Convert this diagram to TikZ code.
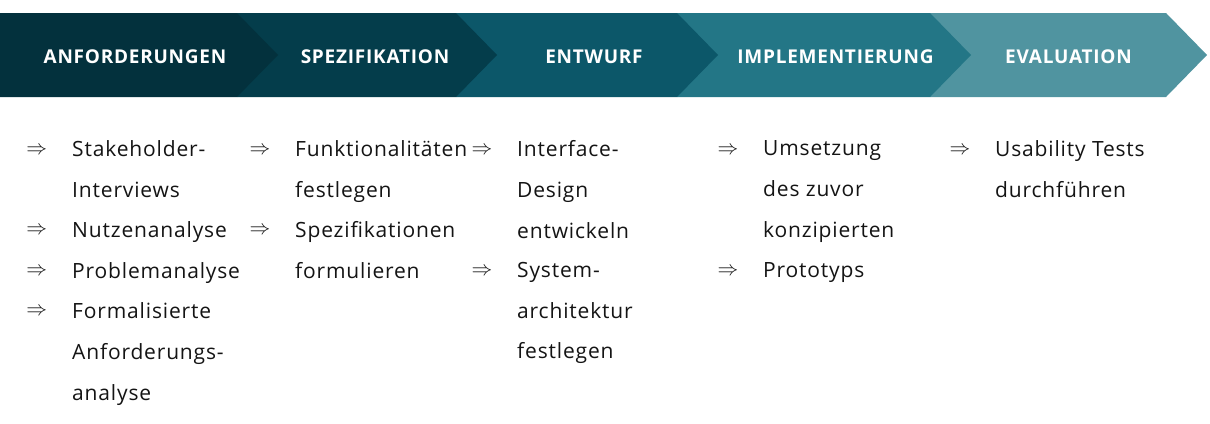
\documentclass[tikz,border=0pt]{standalone}
\usepackage{fontspec}
\setmainfont{Open Sans}[LetterSpace=4]
\begin{document}
\begin{tikzpicture}[x=1pt,y=-1pt,
  head/.style={text=white,font=\fontsize{19}{20}\selectfont\bfseries,inner sep=0pt,anchor=base},
  item/.style={text=black!92,font=\fontsize{21}{40.7}\selectfont,inner sep=0pt,anchor=north west,align=left},
  arr/.style={text=black!92,font=\fontsize{21}{21}\selectfont,inner sep=0pt,anchor=center}]
\useasboundingbox (0,0) rectangle (1210,423);
\definecolor{cA}{RGB}{3,49,61}
\definecolor{cB}{RGB}{4,61,75}
\definecolor{cC}{RGB}{12,87,105}
\definecolor{cD}{RGB}{35,118,134}
\definecolor{cE}{RGB}{80,148,160}
% chevrons, drawn back to front so each tip overlaps the next band
\fill[cE] (930,13) -- (1166,13) -- (1207,55) -- (1166,97) -- (930,97) -- cycle;
\fill[cD] (677,13) -- (930,13) -- (971,55) -- (930,97) -- (677,97) -- cycle;
\fill[cC] (456,13) -- (677,13) -- (718,55) -- (677,97) -- (456,97) -- cycle;
\fill[cB] (237,13) -- (456,13) -- (497,55) -- (456,97) -- (237,97) -- cycle;
\fill[cA] (0,13) -- (237,13) -- (278,55) -- (237,97) -- (0,97) -- cycle;
% phase titles
\node[head] (h1) at (135,63.3) {ANFORDERUNGEN};
\node[head] (h2) at (375,63.3) {SPEZIFIKATION};
\node[head] (h3) at (594,63.3) {ENTWURF};
\node[head] (h4) at (835.5,63.3) {IMPLEMENTIERUNG};
\node[head] (h5) at (1068.5,63.3) {EVALUATION};
% column 1 (item nodes: north west corner = top of first line box)
\node[arr] (a11) at (36.7,150.5) {$\Rightarrow$};
\node[item] (t11) at (72,140.5) {Stakeholder-\\Interviews};
\node[arr] (a12) at (36.7,231) {$\Rightarrow$};
\node[item] (t12) at (72,221.5) {Nutzenanalyse};
\node[arr] (a13) at (36.7,271.5) {$\Rightarrow$};
\node[item] (t13) at (72,262) {Problemanalyse};
\node[arr] (a14) at (36.7,312) {$\Rightarrow$};
\node[item] (t14) at (72,302.5) {Formalisierte\\Anforderungs-\\analyse};
% column 2
\node[arr] (a21) at (260,150.5) {$\Rightarrow$};
\node[item] (t21) at (295,140.5) {Funktionalitäten\\festlegen};
\node[arr] (a22) at (260,231) {$\Rightarrow$};
\node[item] (t22) at (295,221.5) {Spezifikationen\\formulieren};
% column 3
\node[arr] (a31) at (482,150.5) {$\Rightarrow$};
\node[item] (t31) at (517,140.5) {Interface-\\Design\\entwickeln};
\node[arr] (a32) at (482,271.5) {$\Rightarrow$};
\node[item] (t32) at (517,262) {System-\\architektur\\festlegen};
% column 4
\node[arr] (a41) at (728,150.5) {$\Rightarrow$};
\node[item] (t41) at (763,140.5) {Umsetzung\\des zuvor\\konzipierten};
\node[arr] (a42) at (728,271.5) {$\Rightarrow$};
\node[item] (t42) at (763,262) {Prototyps};
% column 5
\node[arr] (a51) at (960,150.5) {$\Rightarrow$};
\node[item] (t51) at (995,140.5) {Usability Tests\\durchführen};
\end{tikzpicture}
\end{document}
